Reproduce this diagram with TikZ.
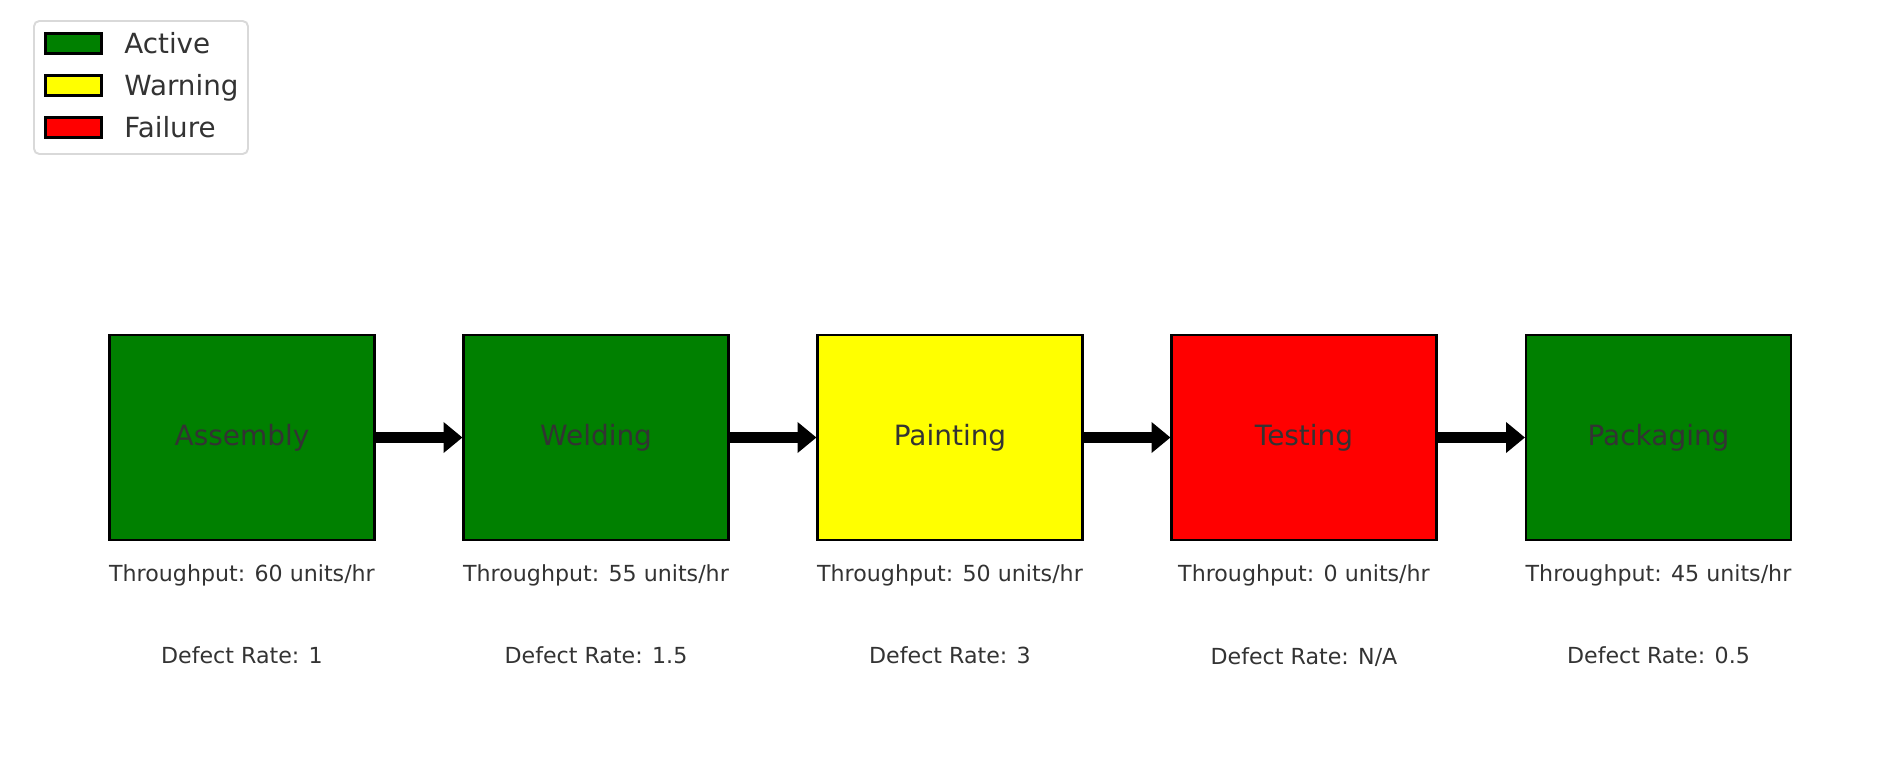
\documentclass[tikz,border=0pt]{standalone}
\usepackage{fontspec}
\setmainfont{DejaVu Sans}
\usetikzlibrary{arrows.meta}
\definecolor{okgreen}{HTML}{008000}
\definecolor{warnyellow}{HTML}{FFFF00}
\definecolor{failred}{HTML}{FF0000}
\definecolor{textgray}{HTML}{333333}
\definecolor{framegray}{HTML}{D9D9D9}
\tikzset{
  station/.style={draw=black, line width=1.2pt, minimum width=5.30cm, minimum height=4.10cm, inner sep=0pt, text=textgray, font=\fontsize{15.9}{19}\selectfont},
  stat/.style={anchor=base, text=textgray, font=\fontsize{12.6}{15}\selectfont, inner sep=0pt},
  flow/.style={line width=6.3pt, -{Triangle[length=10.8pt,width=17pt]}},
  swatch/.style={draw=black, line width=1.2pt, minimum width=1.12cm, minimum height=0.40cm, inner sep=0pt},
  keytext/.style={anchor=base west, text=textgray, font=\fontsize{15.8}{19}\selectfont, inner sep=0pt}
}
\begin{document}
\begin{tikzpicture}[x=0.02cm,y=-0.02cm]
		\useasboundingbox (0,0) rectangle (1900,765);
		% legend
		\draw [framegray, fill=white, line width=1.1pt, rounded corners=3pt] (34,21) rectangle (248,154);
		\node [swatch, fill=okgreen] (keyact) at (73.5,43.5) {};
		\node [swatch, fill=warnyellow] (keywarn) at (73.5,85.5) {};
		\node [swatch, fill=failred] (keyfail) at (73.5,127.5) {};
		\node [keytext] (lblact) at (124,53.5) {Active};
		\node [keytext] (lblwarn) at (124,95.5) {Warning};
		\node [keytext] (lblfail) at (124,137.5) {Failure};
		% stations
		\node [station, fill=okgreen] (asm) at (242,437.5) {Assembly};
		\node [station, fill=okgreen] (weld) at (596,437.5) {Welding};
		\node [station, fill=warnyellow] (paint) at (950,437.5) {Painting};
		\node [station, fill=failred] (test) at (1304,437.5) {Testing};
		\node [station, fill=okgreen] (pack) at (1658.5,437.5) {Packaging};
		\draw [flow] (asm.east) -- (weld.west);
		\draw [flow] (weld.east) -- (paint.west);
		\draw [flow] (paint.east) -- (test.west);
		\draw [flow] (test.east) -- (pack.west);
		% figures under each station
		\node [stat] (asmtp) at (242,581.5) {Throughput: 60 units/hr};
		\node [stat] (weldtp) at (596,581.5) {Throughput: 55 units/hr};
		\node [stat] (painttp) at (950,581.5) {Throughput: 50 units/hr};
		\node [stat] (testtp) at (1304,581.5) {Throughput: 0 units/hr};
		\node [stat] (packtp) at (1658.5,581.5) {Throughput: 45 units/hr};
		\node [stat] (asmdr) at (242,663) {Defect Rate: 1};
		\node [stat] (welddr) at (596,663) {Defect Rate: 1.5};
		\node [stat] (paintdr) at (950,663) {Defect Rate: 3};
		\node [stat] (testdr) at (1304,664) {Defect Rate: N/A};
		\node [stat] (packdr) at (1658.5,663) {Defect Rate: 0.5};
\end{tikzpicture}
\end{document}
